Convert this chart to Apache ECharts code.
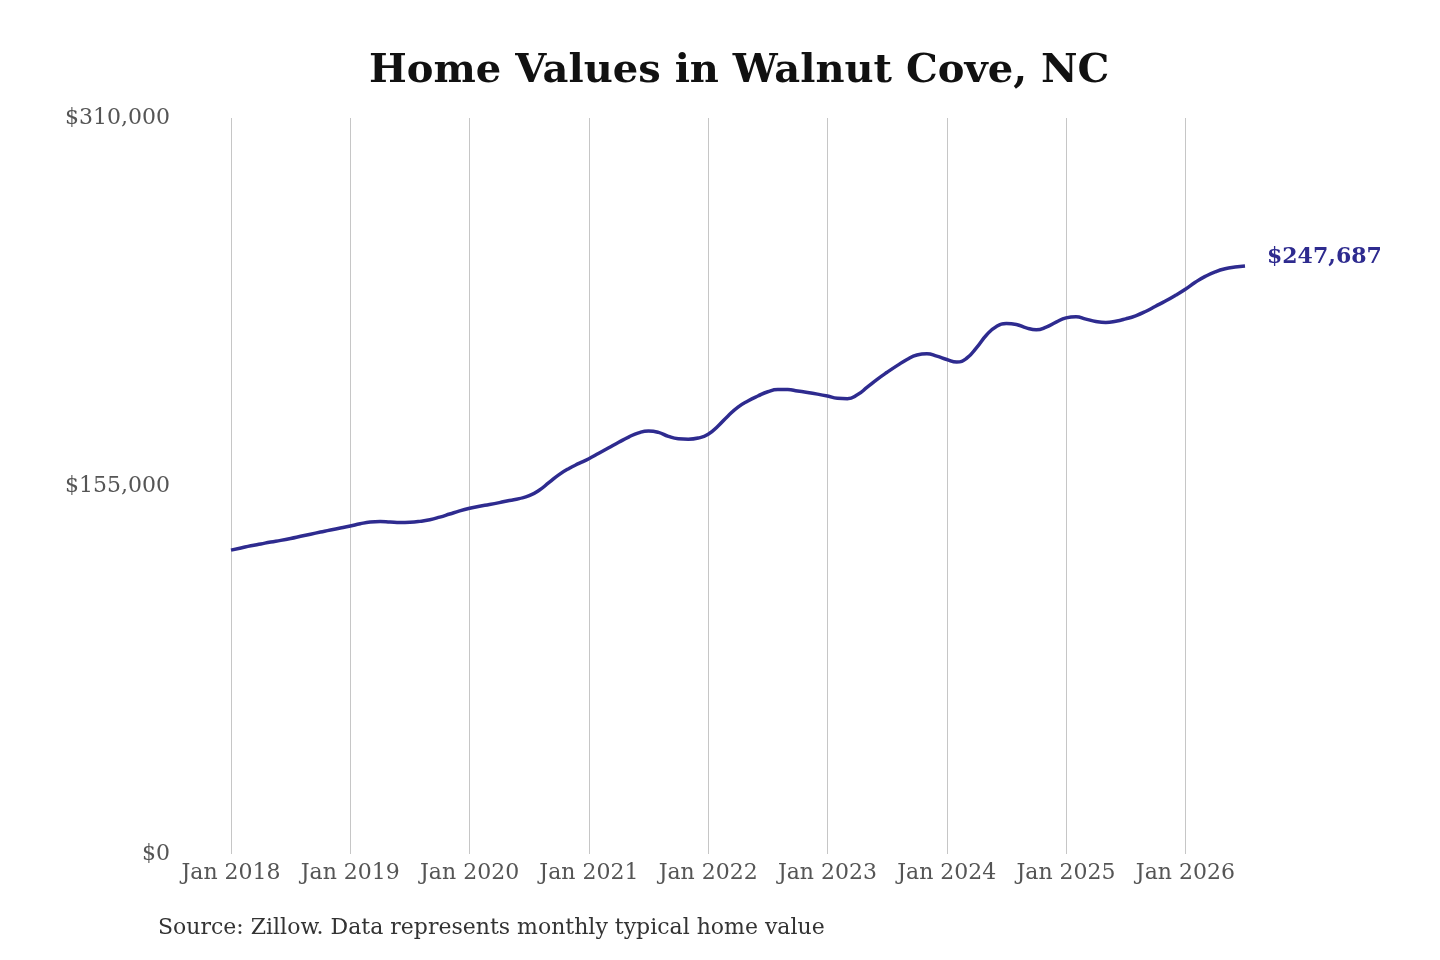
<!DOCTYPE html>
<html>
<head>
<meta charset="utf-8">
<script src="https://cdn.jsdelivr.net/npm/echarts@6/dist/echarts.min.js"></script>
<style>
html,body{margin:0;padding:0;background:#fff;}
#chart{width:1440px;height:960px;}
</style>
</head>
<body>
<div id="chart"></div>
<script>
const titleText = 'Home Values in Walnut Cove, NC';
const sourceText = 'Source: Zillow. Data represents monthly typical home value';
const monthNames = ['Jan','Feb','Mar','Apr','May','Jun','Jul','Aug','Sep','Oct','Nov','Dec'];
const years = [2018,2019,2020,2021,2022,2023,2024,2025,2026];
const yTicks = [0, 155000, 310000];

const values2018 = [128000,128900,129800,130600,131400,132100,132900,133800,134700,135600,136500,137300];
const values2019 = [138150,139100,139800,140000,139800,139600,139700,140100,140800,141900,143200,144500];
const values2020 = [145600,146500,147200,148000,148900,149700,150900,153200,156500,159800,162400,164500];
const values2021 = [166500,168800,171100,173400,175600,177400,178200,177600,175900,174900,174700,175200];
const values2022 = [176800,180300,184500,188200,190800,192900,194700,195600,195600,195000,194400,193700];
const values2023 = [192900,192000,191800,193400,196600,199900,202900,205700,208300,210200,210700,209700];
const values2024 = [208300,207200,208800,213300,218600,222200,223400,223000,221600,220800,221900,224000];
const values2025 = [225800,226300,225300,224300,223900,224400,225400,226700,228500,230700,232900,235300];
const values2026 = [237900,240800,243300,245200,246500,247200,247687];

const values = [].concat(values2018, values2019, values2020, values2021, values2022,
  values2023, values2024, values2025, values2026);

const categories = [];
years.forEach(y => monthNames.forEach(m => categories.push(m + ' ' + y)));
categories.length = values.length;

const fmt = v => '$' + Math.round(v).toLocaleString('en-US');

const chart = echarts.init(document.getElementById('chart'));
chart.setOption({
  animation: false,
  backgroundColor: '#ffffff',
  title: {
    text: titleText,
    left: 364,
    top: 47,
    textStyle: {fontFamily: 'DejaVu Serif', fontWeight: 'bold', fontSize: 40, color: '#111'}
  },
  graphic: [{
    type: 'text',
    left: 158,
    top: 917,
    style: {text: sourceText, font: '22px "DejaVu Serif"', fill: '#333'}
  }],
  grid: {left: 231, right: 195, top: 118, bottom: 106, containLabel: false},
  xAxis: {
    type: 'category',
    data: categories,
    boundaryGap: false,
    axisLine: {show: false},
    axisTick: {show: false},
    axisLabel: {
      interval: (i) => i % 12 === 0,
      formatter: v => v,
      fontFamily: 'DejaVu Serif', fontSize: 22, color: '#555', margin: 8
    },
    splitLine: {show: true, interval: (i) => i % 12 === 0, lineStyle: {color: '#c6c6c6', width: 1}}
  },
  yAxis: {
    type: 'value',
    min: 0,
    max: yTicks[2],
    interval: yTicks[1],
    axisLine: {show: false},
    axisTick: {show: false},
    splitLine: {show: false},
    axisLabel: {
      formatter: v => fmt(v),
      fontFamily: 'DejaVu Serif', fontSize: 22, color: '#555', margin: 61
    }
  },
  series: [{
    type: 'line',
    data: values,
    smooth: true,
    showSymbol: false,
    lineStyle: {color: '#2e2b8f', width: 3.5},
    itemStyle: {color: '#2e2b8f'},
    endLabel: {
      show: true,
      formatter: p => fmt(p.value),
      fontFamily: 'DejaVu Serif', fontWeight: 'bold', fontSize: 22, color: '#2e2b8f',
      distance: 22,
      offset: [0, -9]
    }
  }]
});
</script>
</body>
</html>
